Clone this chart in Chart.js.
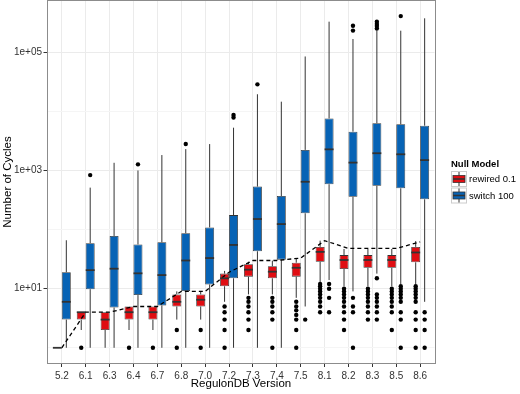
<!DOCTYPE html>
<html>
<head>
<meta charset="utf-8">
<script src="https://cdn.jsdelivr.net/npm/chart.js@4.4.1/dist/chart.umd.min.js"></script>
<style>
  html, body { margin: 0; padding: 0; background: #fff; }
</style>
</head>
<body>
<canvas id="chart" width="520" height="394"></canvas>
<script>
const versions = ["5.2", "6.1", "6.3", "6.4", "6.7", "6.8", "7.0", "7.2", "7.3", "7.4", "7.5", "8.1", "8.2", "8.3", "8.5", "8.6"];

// cycles in the real network (dashed line)
const observed = [1, 4, 4, 5, 5, 9, 9, 19, 30, 30, 33, 65, 48, 48, 48, 62];

// rewired 0.1
const redLow  = [1, 2, 1, 2, 2, 3, 3, 6, 8, 8, 7, 13, 11, 11, 11, 12];
const redQ1   = [1, 3, 2, 3, 3, 5, 5, 11, 16, 15, 16, 28.6, 21.6, 22.6, 22.6, 28];
const redMed  = [1, 4, 3, 4, 4, 6, 6.5, 15, 21, 19.4, 22.6, 42, 30.6, 30.6, 30.6, 41];
const redQ3   = [1, 4, 4, 5, 5, 8, 8, 18, 26, 24, 27.5, 51, 37, 37, 37, 51];
const redHigh = [1, 4, 4, 5, 5, 9, 9, 20, 28.6, 29.8, 32.6, 65, 47, 47, 47, 64];
const redOut  = [
  [], [1], [], [1], [1], [2, 1], [2, 1], [5, 4, 3, 2, 1],
  [7, 6, 5, 4, 3, 2], [7, 6, 5, 4, 3, 1], [6, 5, 4.3, 3.6, 3, 2, 1],
  [12, 11, 10, 9, 8, 7, 6, 5, 4], [10, 9, 8, 7, 6, 5, 4, 3, 2],
  [10, 9, 8, 7, 6, 5, 4, 3], [10, 9, 8, 7, 6, 5, 4, 2],
  [11, 10, 9, 8, 7, 6, 4, 3, 2, 1]
];

// switch 100
const blueLow  = [1, 1, 1, 1, 1, 1, 1, 1, 1, 1, 5, 14, 9, 18, 12, 6];
const blueQ1   = [3, 9.8, 4.8, 7.8, 5.2, 9.1, 11.8, 15, 43, 31, 189, 585, 360, 552, 500, 326];
const blueMed  = [6, 20.6, 21.8, 18.2, 17, 30, 33, 55, 151, 124, 645, 2280, 1360, 1960, 1880, 1500];
const blueQ3   = [19, 59, 78, 56, 61, 87, 109, 176, 535, 370, 2230, 7600, 4540, 6300, 6050, 5730];
const blueHigh = [66, 513, 1350, 1000, 1825, 2300, 2800, 5300, 19500, 14600, 85000, 330000, 168000, 240000, 232000, 376000];
const blueOut  = [
  [], [836], [], [1270], [], [2800], [], [8700, 7900], [28700], [], [3],
  [12, 10, 7, 4], [282000, 233000, 7, 5, 4, 1],
  [330000, 300000, 279000, 254000, 15, 8, 7, 6, 5, 4, 3],
  [410000, 11, 10, 9, 8, 7, 6, 4, 3, 1], [4, 3, 2, 1]
];

const yTicks = [1, 10, 100, 1000, 10000, 100000];
const yLabeled = [10, 1000, 100000];
const yLabels = ["1e+01", "1e+03", "1e+05"];

const RED = "#e00d12";
const BLUE = "#0763b5";
const EDGE = "#333333";

const groups = [
  { low: redLow, q1: redQ1, med: redMed, q3: redQ3, high: redHigh, out: redOut },
  { low: blueLow, q1: blueQ1, med: blueMed, q3: blueQ3, high: blueHigh, out: blueOut },
];

function eachBox(chart, fn) {
  const y = chart.scales.y;
  groups.forEach((g, di) => {
    chart.getDatasetMeta(di).data.forEach((el, i) => fn(g, el, i, y));
  });
}

function drawKey(ctx, x, y, fill) {
  ctx.fillStyle = "#fff";
  ctx.fillRect(x, y, 16, 16);
  ctx.strokeStyle = "#cccccc";
  ctx.lineWidth = 1;
  ctx.strokeRect(x + 0.5, y + 0.5, 15, 15);
  ctx.strokeStyle = EDGE;
  ctx.beginPath();
  ctx.moveTo(x + 8, y + 1);
  ctx.lineTo(x + 8, y + 15);
  ctx.stroke();
  ctx.fillStyle = fill;
  ctx.fillRect(x + 2, y + 4.5, 12, 7);
  ctx.lineWidth = 0.8;
  ctx.strokeRect(x + 2, y + 4.5, 12, 7);
  ctx.lineWidth = 1.6;
  ctx.beginPath();
  ctx.moveTo(x + 2, y + 8);
  ctx.lineTo(x + 14, y + 8);
  ctx.stroke();
}

const boxPlugin = {
  id: "boxes",
  beforeDatasetsDraw(chart) {
    const ctx = chart.ctx;
    ctx.save();
    ctx.strokeStyle = EDGE;
    ctx.lineWidth = 1;
    eachBox(chart, (g, el, i, y) => {
      ctx.beginPath();
      ctx.moveTo(el.x, y.getPixelForValue(g.high[i]));
      ctx.lineTo(el.x, y.getPixelForValue(g.q3[i]));
      ctx.moveTo(el.x, y.getPixelForValue(g.q1[i]));
      ctx.lineTo(el.x, y.getPixelForValue(g.low[i]));
      ctx.stroke();
    });
    ctx.restore();
  },
  afterDatasetsDraw(chart) {
    const ctx = chart.ctx;
    ctx.save();
    eachBox(chart, (g, el, i, y) => {
      const ym = y.getPixelForValue(g.med[i]);
      ctx.strokeStyle = EDGE;
      ctx.lineWidth = 1.8;
      ctx.beginPath();
      ctx.moveTo(el.x - el.width / 2, ym);
      ctx.lineTo(el.x + el.width / 2, ym);
      ctx.stroke();
      ctx.fillStyle = "#000";
      g.out[i].forEach((v) => {
        ctx.beginPath();
        ctx.arc(el.x, y.getPixelForValue(v), 2.2, 0, Math.PI * 2);
        ctx.fill();
      });
    });
    ctx.restore();
  },
  afterDraw(chart) {
    const ctx = chart.ctx;
    const a = chart.chartArea;
    ctx.save();
    ctx.strokeStyle = "#8c8c8c";
    ctx.lineWidth = 1;
    ctx.strokeRect(Math.round(a.left) - 0.5, Math.round(a.top) - 0.5,
      Math.round(a.right - a.left) + 1, Math.round(a.bottom - a.top) + 1);

    // legend
    const lx = 451;
    ctx.fillStyle = "#000";
    ctx.textBaseline = "middle";
    ctx.font = "bold 9.5px 'Liberation Sans', Arial, sans-serif";
    ctx.fillText("Null Model", lx, 164);
    drawKey(ctx, lx, 171, RED);
    drawKey(ctx, lx, 187.5, BLUE);
    ctx.fillStyle = "#000";
    ctx.font = "9.5px 'Liberation Sans', Arial, sans-serif";
    ctx.fillText("rewired 0.1", lx + 18, 179.5);
    ctx.fillText("switch 100", lx + 18, 196);
    ctx.restore();
  },
};

Chart.defaults.font.family = "'Liberation Sans', Arial, sans-serif";

new Chart(document.getElementById("chart"), {
  type: "bar",
  data: {
    labels: versions,
    datasets: [
      {
        label: "rewired 0.1",
        data: redQ1.map((v, i) => [v, redQ3[i]]),
        backgroundColor: RED,
        borderColor: EDGE,
        borderWidth: 0.8,
        borderSkipped: false,
        categoryPercentage: 0.75,
        barPercentage: 1,
        order: 1,
      },
      {
        label: "switch 100",
        data: blueQ1.map((v, i) => [v, blueQ3[i]]),
        backgroundColor: BLUE,
        borderColor: EDGE,
        borderWidth: 0.8,
        borderSkipped: false,
        categoryPercentage: 0.75,
        barPercentage: 1,
        order: 1,
      },
      {
        type: "line",
        label: "observed",
        data: observed,
        borderColor: "#000",
        borderWidth: 1.3,
        borderDash: [4, 3],
        pointRadius: 0,
        fill: false,
        tension: 0,
        order: 0,
      },
    ],
  },
  options: {
    responsive: false,
    animation: false,
    layout: { padding: { left: 0, right: 85.5, top: 1, bottom: 0 } },
    plugins: { legend: { display: false }, tooltip: { enabled: false } },
    scales: {
      x: {
        offset: true,
        grid: { offset: false, color: "#ebebeb", tickColor: "#333", tickLength: 4 },
        border: { display: false },
        ticks: { color: "#333", font: { size: 10 }, padding: 3, autoSkip: false, maxRotation: 0 },
        title: { display: true, text: "RegulonDB Version", color: "#000", font: { size: 11.5 }, padding: { top: 0, bottom: 3 } },
        afterBuildTicks: (s) => { s._startValue = -0.6; s._valueRange = versions.length + 0.2; },
        afterFit: (s) => { s.height = 31; s.paddingLeft = 0; s.paddingRight = 0; },
      },
      y: {
        type: "logarithmic",
        min: 0.553,
        max: 738000,
        bounds: "data",
        afterBuildTicks: (s) => { s.ticks = yTicks.map((v) => ({ value: v })); },
        grid: {
          color: (c) => (c.tick && yLabeled.includes(c.tick.value) ? "#ebebeb" : "#f5f5f5"),
          tickColor: (c) => (c.tick && yLabeled.includes(c.tick.value) ? "#333" : "rgba(0,0,0,0)"),
          tickLength: 4,
        },
        border: { display: false },
        ticks: {
          color: "#333",
          font: { size: 10 },
          padding: 1.5,
          autoSkip: false,
          callback: (v) => {
            const k = yLabeled.indexOf(v);
            return k < 0 ? "" : yLabels[k];
          },
        },
        title: { display: true, text: "Number of Cycles", color: "#000", font: { size: 11.5 }, padding: { top: 1, bottom: 0 } },
        afterFit: (s) => { s.width = 47.5; s.paddingTop = 0; s.paddingBottom = 0; },
      },
    },
  },
  plugins: [boxPlugin],
});
</script>
</body>
</html>
